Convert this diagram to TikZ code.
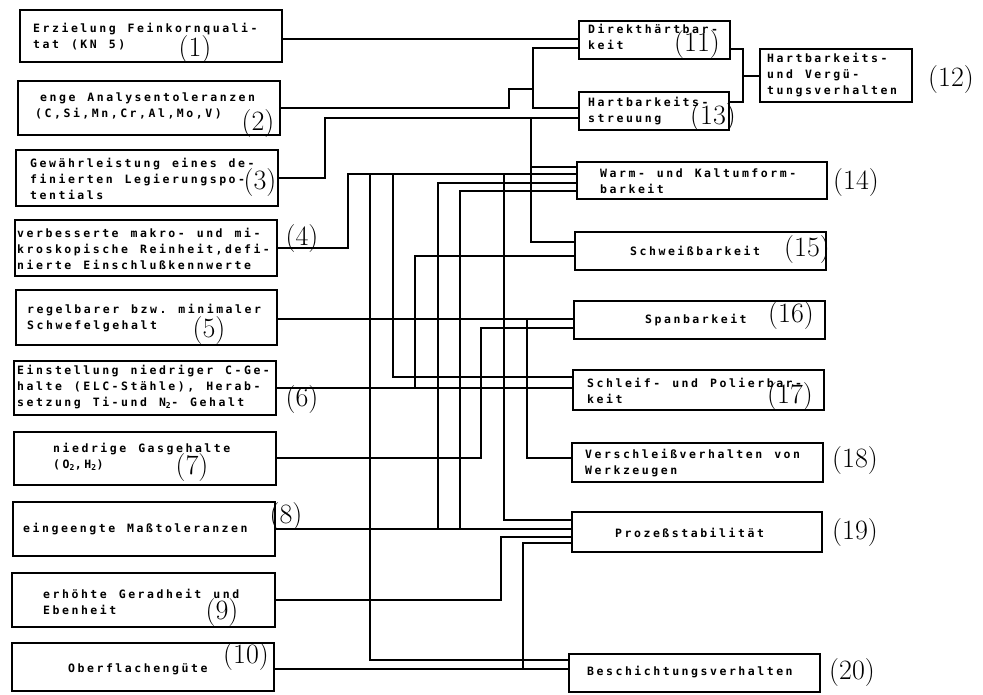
\documentclass[tikz,border=0pt]{standalone}
\usepackage{fontspec}
\newfontfamily\boxfont{DejaVu Sans Mono}[LetterSpace=22]
\newcommand\boxsize{\boxfont\bfseries\fontsize{11.5}{16.3}\selectfont}
\newcommand\SP{\hspace*{12pt}}
\begin{document}
\begin{tikzpicture}[x=1pt,y=-1pt,
  box/.style={draw, line width=1.5pt, rectangle, inner sep=0pt, outer sep=0pt, anchor=north west},
  txt/.style={anchor=base west, inner sep=0pt, text width=320pt, align=left, font=\boxsize},
  lab/.style={inner sep=0pt, font=\fontsize{28}{28}\selectfont},
  wire/.style={line width=1.3pt}]
\fill[white] (0,0) rectangle (983,694);
\useasboundingbox (0,0) rectangle (983,694);
% left boxes
\node[box, minimum width=262pt, minimum height=52pt] (b1) at (20,10) {};
\node[box, minimum width=262pt, minimum height=54pt] (b2) at (18,81) {};
\node[box, minimum width=262pt, minimum height=56pt] (b3) at (16,150) {};
\node[box, minimum width=262pt, minimum height=56pt] (b4) at (15,220) {};
\node[box, minimum width=261pt, minimum height=55pt] (b5) at (16,290) {};
\node[box, minimum width=262pt, minimum height=54pt] (b6) at (14,361) {};
\node[box, minimum width=262pt, minimum height=53pt] (b7) at (14,432) {};
\node[box, minimum width=262pt, minimum height=54pt] (b8) at (13,502) {};
\node[box, minimum width=263pt, minimum height=54pt] (b9) at (12,573) {};
\node[box, minimum width=262pt, minimum height=48pt] (b10) at (12,643) {};
% right boxes
\node[box, minimum width=151pt, minimum height=38pt] (b11) at (579,21) {};
\node[box, minimum width=150pt, minimum height=38pt] (b13) at (579,92) {};
\node[box, minimum width=152pt, minimum height=53pt] (b12) at (760,49) {};
\node[box, minimum width=250pt, minimum height=37pt] (b14) at (577,162) {};
\node[box, minimum width=251pt, minimum height=38pt] (b15) at (575,232) {};
\node[box, minimum width=251pt, minimum height=38pt] (b16) at (574,301) {};
\node[box, minimum width=251pt, minimum height=40pt] (b17) at (573,370) {};
\node[box, minimum width=251pt, minimum height=39pt] (b18) at (572,443) {};
\node[box, minimum width=250pt, minimum height=40pt] (b19) at (572,512) {};
\node[box, minimum width=251pt, minimum height=38pt] (b20) at (569,654) {};
% texts
\node[txt] (t1) at (33,32) {Erzielung\SP Feinkornquali-\\tat\SP(KN\SP 5)};
\node[txt] (t2) at (35,101) {\hspace*{5pt}enge\SP Analysentoleranzen\\(C,Si,Mn,Cr,Al,Mo,V)};
\node[txt] (t3) at (30,167) {Gewährleistung\SP eines\SP de-\\finierten\SP Legierungspo-\\tentials};
\node[txt] (t4) at (17,237) {verbesserte\SP makro-\SP und\SP mi-\\kroskopische\SP Reinheit,defi-\\nierte\SP Einschlußkennwerte};
\node[txt] (t5) at (27,313) {regelbarer\SP bzw.\SP minimaler\\Schwefelgehalt};
\node[txt] (t6) at (17,374) {Einstellung\SP niedriger\SP C-Ge-\\halte\SP (ELC-Stähle),\SP Herab-\\setzung\SP Ti-und\SP N\textsubscript{2}-\SP Gehalt};
\node[txt] (t7) at (53,452) {niedrige\SP Gasgehalte\\(O\textsubscript{2},H\textsubscript{2})};
\node[txt] (t8) at (23,532) {eingeengte\SP Maßtoleranzen};
\node[txt] (t9) at (43,598) {erhöhte\SP Geradheit\SP und\\Ebenheit};
\node[txt] (t10) at (68,672) {Oberflachengüte};
\node[txt] (t11) at (588,33) {Direkthärtbar-\\keit};
\node[txt] (t13) at (588,106) {Hartbarkeits-\\streuung};
\node[txt] (t12) at (767,62) {Hartbarkeits-\\und\SP Vergü-\\tungsverhalten};
\node[txt] (t14) at (600,177) {Warm-\SP und\SP Kaltumform-\\barkeit};
\node[txt] (t15) at (630,255) {Schweißbarkeit};
\node[txt] (t16) at (645,323) {Spanbarkeit};
\node[txt] (t17) at (587,387) {Schleif-\SP und\SP Polierbar-\\keit};
\node[txt] (t18) at (585,458) {Verschleißverhalten\SP von\\Werkzeugen};
\node[txt] (t19) at (615,537) {Prozeßstabilität};
\node[txt] (t20) at (587,675) {Beschichtungsverhalten};
% labels
\node[lab] (l1) at (195,50) {(1)};
\node[lab] (l2) at (258,124) {(2)};
\node[lab] (l3) at (260,183) {(3)};
\node[lab] (l4) at (302,239) {(4)};
\node[lab] (l5) at (209,331) {(5)};
\node[lab] (l6) at (302,400) {(6)};
\node[lab] (l7) at (192,468) {(7)};
\node[lab] (l8) at (286,517) {(8)};
\node[lab] (l9) at (222,613) {(9)};
\node[lab] (l10) at (246,657) {(10)};
\node[lab] (l11) at (697,45) {(11)};
\node[lab] (l12) at (951,80) {(12)};
\node[lab] (l13) at (713,118) {(13)};
\node[lab] (l14) at (856,183) {(14)};
\node[lab] (l15) at (807,250) {(15)};
\node[lab] (l16) at (791,316) {(16)};
\node[lab] (l17) at (790,397) {(17)};
\node[lab] (l18) at (855,461) {(18)};
\node[lab] (l19) at (855,533) {(19)};
\node[lab] (l20) at (852,673) {(20)};
% connectors
\draw[wire] (b1.east |- 0,39) -- (b11.west |- 0,39);
\draw[wire] (b11.west |- 0,48) -- (533,48) -- (533,108) -- (b13.west |- 0,108);
\draw[wire] (b2.east |- 0,108) -- (509,108) -- (509,89) -- (533,89);
\draw[wire] (b3.east |- 0,178) -- (325,178) -- (325,118) -- (b13.west |- 0,118);
\draw[wire] (531,118) -- (531,242) -- (b15.west |- 0,242);
\draw[wire] (531,167) -- (b14.west |- 0,167);
\draw[wire] (b4.east |- 0,248) -- (348,248) -- (348,174) -- (b14.west |- 0,174);
\draw[wire] (370,174) -- (370,660) -- (b20.west |- 0,660);
\draw[wire] (393,174) -- (393,377) -- (b17.west |- 0,377);
\draw[wire] (438,529) -- (438,183) -- (b14.west |- 0,183);
\draw[wire] (460,529) -- (460,191) -- (b14.west |- 0,191);
\draw[wire] (504,174) -- (504,520) -- (b19.west |- 0,520);
\draw[wire] (b5.east |- 0,319) -- (b16.west |- 0,319);
\draw[wire] (527,319) -- (527,458) -- (b18.west |- 0,458);
\draw[wire] (b6.east |- 0,388) -- (b17.west |- 0,388);
\draw[wire] (415,388) -- (415,256) -- (b15.west |- 0,256);
\draw[wire] (b7.east |- 0,458) -- (481,458) -- (481,328) -- (b16.west |- 0,328);
\draw[wire] (b8.east |- 0,529) -- (b19.west |- 0,529);
\draw[wire] (b9.east |- 0,600) -- (501,600) -- (501,537) -- (b19.west |- 0,537);
\draw[wire] (b10.east |- 0,669) -- (b20.west |- 0,669);
\draw[wire] (523,669) -- (523,543) -- (b19.west |- 0,543);
\draw[wire] (b11.east |- 0,49) -- (743,49) -- (743,102) -- (b13.east |- 0,102);
\draw[wire] (743,76) -- (b12.west |- 0,76);
\end{tikzpicture}
\end{document}
